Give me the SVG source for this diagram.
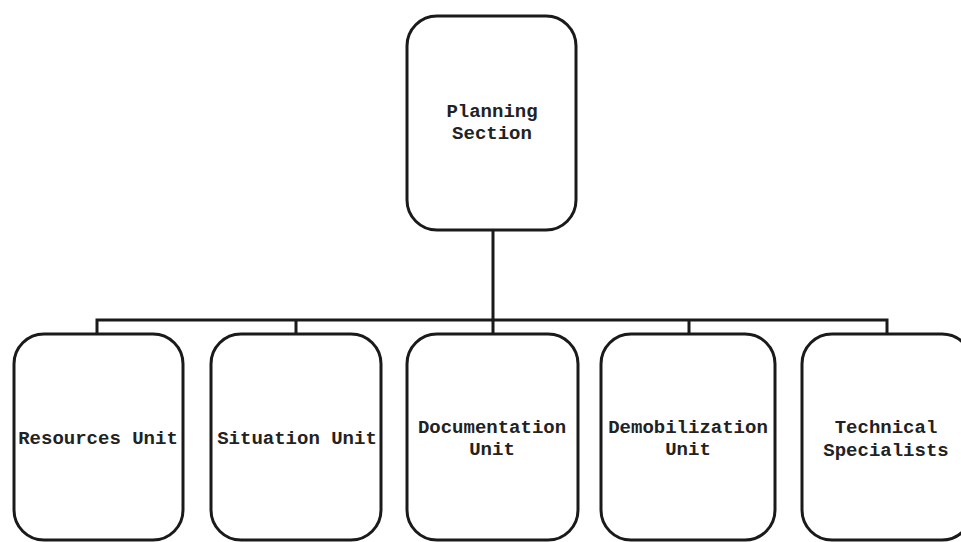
<svg xmlns="http://www.w3.org/2000/svg" width="961" height="542" viewBox="0 0 961 542">
<style>
.box{fill:#fff;stroke:#1a1a1a;stroke-width:3}
.t{font-family:"Liberation Mono","Courier New",monospace;font-size:19px;font-weight:bold;fill:#222;text-anchor:middle}
.c{fill:none;stroke:#1a1a1a;stroke-width:3}
</style>
<rect width="961" height="542" fill="#fff"/>
<g id="connectors">
<path class="c" d="M493 230V320M97 334V320H887V334M296 320V334M493 320V334M689 320V334"/>
</g>
<g id="planning-section">
<rect class="box" x="407" y="16" width="169" height="214" rx="30"/>
<text class="t" x="492" y="117">Planning</text>
<text class="t" x="492" y="139">Section</text>
</g>
<g id="resources-unit">
<rect class="box" x="14" y="334" width="169" height="206" rx="30"/>
<text class="t" x="98" y="444">Resources Unit</text>
</g>
<g id="situation-unit">
<rect class="box" x="211" y="334" width="170" height="206" rx="30"/>
<text class="t" x="297" y="444">Situation Unit</text>
</g>
<g id="documentation-unit">
<rect class="box" x="407" y="334" width="171" height="206" rx="30"/>
<text class="t" x="492" y="433">Documentation</text>
<text class="t" x="492" y="455">Unit</text>
</g>
<g id="demobilization-unit">
<rect class="box" x="601" y="334" width="174" height="206" rx="30"/>
<text class="t" x="688" y="433">Demobilization</text>
<text class="t" x="688" y="455">Unit</text>
</g>
<g id="technical-specialists">
<rect class="box" x="802" y="334" width="170" height="206" rx="30"/>
<text class="t" x="886" y="433">Technical</text>
<text class="t" x="886" y="456">Specialists</text>
</g>
</svg>
